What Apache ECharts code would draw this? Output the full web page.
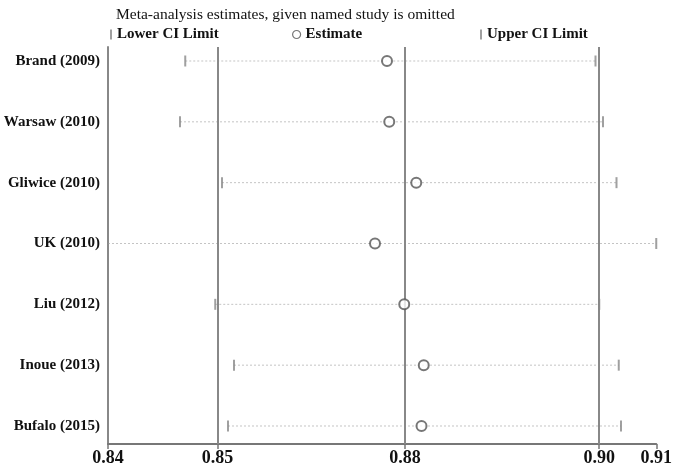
<!DOCTYPE html>
<html>
<head>
<meta charset="utf-8">
<script src="https://cdn.jsdelivr.net/npm/echarts@6/dist/echarts.min.js"></script>
<style>
html,body{margin:0;padding:0;background:#fff;}
#chart{width:675px;height:468px;}
</style>
</head>
<body>
<div id="chart"></div>
<script>
// Data
const studies = ['Brand (2009)', 'Warsaw (2010)', 'Gliwice (2010)', 'UK (2010)', 'Liu (2012)', 'Inoue (2013)', 'Bufalo (2015)'];
const lowerCI = [0.8473, 0.8466, 0.8522, 0.8370, 0.8513, 0.8538, 0.8530];
const estimate = [0.8742, 0.8745, 0.8781, 0.8726, 0.8765, 0.8791, 0.8788];
const upperCI = [0.9020, 0.9030, 0.9048, 0.9101, 0.9025, 0.9051, 0.9054];
// overall estimate with its CI (vertical reference lines)
const overall = [0.8516, 0.8766, 0.9025];
// x-axis tick values (labels shown with 2 decimals)
const tickValues = [0.8370, 0.8516, 0.8766, 0.9025, 0.9101];
const rows = [1, 2, 3, 4, 5, 6, 7];

const serif = '"Liberation Serif", "Times New Roman", serif';
const chart = echarts.init(document.getElementById('chart'), null, {renderer: 'canvas'});

const ciData = studies.map((s, i) => [lowerCI[i], upperCI[i], rows[i]]);

const option = {
  animation: false,
  backgroundColor: '#fff',
  title: {
    text: 'Meta-analysis estimates, given named study is omitted',
    left: 111, top: 2,
    textStyle: {fontFamily: serif, fontSize: 15.5, fontWeight: 'normal', color: '#111'}
  },
  legend: [
    {left: 105, top: 22, itemWidth: 2, itemHeight: 10, icon: 'rect',
     data: [{name: 'Lower CI Limit', itemStyle: {color: '#888'}}],
     textStyle: {fontFamily: serif, fontSize: 15, fontWeight: 'bold', color: '#111'}},
    {left: 287, top: 22, itemWidth: 8, itemHeight: 8, icon: 'circle',
     data: [{name: 'Estimate', itemStyle: {color: '#fff', borderColor: '#555', borderWidth: 1.2}}],
     textStyle: {fontFamily: serif, fontSize: 15, fontWeight: 'bold', color: '#111'}},
    {left: 475, top: 22, itemWidth: 2, itemHeight: 10, icon: 'rect',
     data: [{name: 'Upper CI Limit', itemStyle: {color: '#888'}}],
     textStyle: {fontFamily: serif, fontSize: 15, fontWeight: 'bold', color: '#111'}}
  ],
  grid: {left: 108, right: 18, top: 47, bottom: 24, containLabel: false},
  xAxis: {
    type: 'value',
    min: tickValues[0], max: tickValues[tickValues.length - 1],
    axisLine: {show: true, lineStyle: {color: '#777', width: 2}},
    axisTick: {show: true, customValues: tickValues, length: 5, lineStyle: {color: '#777', width: 1.5}},
    axisLabel: {customValues: tickValues, formatter: v => v.toFixed(2), margin: 5,
      fontFamily: serif, fontSize: 18, fontWeight: 'bold', color: '#111'},
    splitLine: {show: false}
  },
  yAxis: {
    type: 'value', inverse: true, min: 0.77, max: 7.296,
    axisLine: {show: true, lineStyle: {color: '#888', width: 2}},
    axisTick: {show: false},
    axisLabel: {customValues: rows, formatter: v => studies[Math.round(v) - 1], margin: 8,
      fontFamily: serif, fontSize: 15, fontWeight: 'bold', color: '#111'},
    splitLine: {show: false}
  },
  series: [
    {
      name: 'CI', type: 'custom', silent: true, z: 1,
      data: ciData,
      encode: {x: [0, 1], y: 2},
      renderItem: (params, api) => {
        const y = api.value(2);
        const p1 = api.coord([api.value(0), y]);
        const p2 = api.coord([api.value(1), y]);
        return {type: 'line', shape: {x1: p1[0], y1: p1[1], x2: p2[0], y2: p2[1]},
          style: {stroke: '#c4c4c4', lineWidth: 1, lineDash: [2, 2]}};
      }
    },
    {
      name: 'Lower CI Limit', type: 'scatter', symbol: 'rect', symbolSize: [2, 11], z: 3,
      itemStyle: {color: '#888'},
      data: studies.map((s, i) => [lowerCI[i], rows[i]]),
      markLine: {
        silent: true, symbol: 'none', label: {show: false}, z: 2, precision: 6,
        lineStyle: {color: '#888', width: 2, type: 'solid'},
        data: overall.map(v => ({xAxis: v}))
      }
    },
    {
      name: 'Estimate', type: 'scatter', symbol: 'circle', symbolSize: 10, z: 4,
      itemStyle: {color: '#fff', borderColor: '#555', borderWidth: 2},
      data: studies.map((s, i) => [estimate[i], rows[i]])
    },
    {
      name: 'Upper CI Limit', type: 'scatter', symbol: 'rect', symbolSize: [2, 11], z: 3,
      itemStyle: {color: '#888'},
      data: studies.map((s, i) => [upperCI[i], rows[i]])
    }
  ]
};
chart.setOption(option);
</script>
</body>
</html>
